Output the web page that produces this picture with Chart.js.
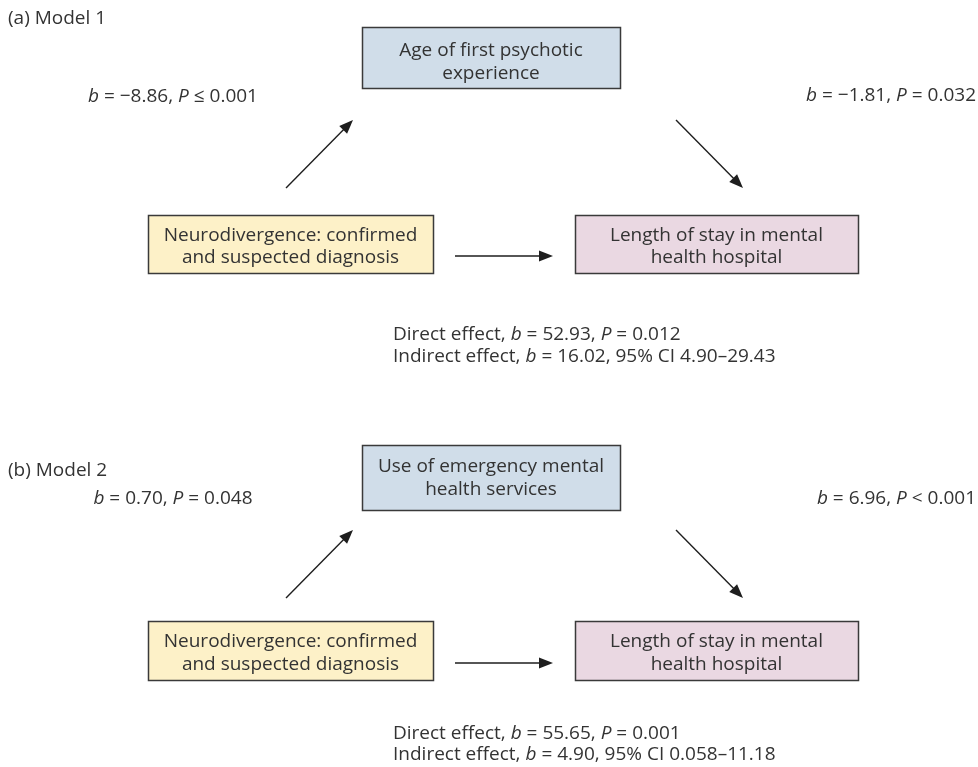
<!DOCTYPE html>
<html><head><meta charset="utf-8">
<script src="https://cdn.jsdelivr.net/npm/chart.js@4/dist/chart.umd.min.js"></script>
<style>html,body{margin:0;padding:0;background:#fff;overflow:hidden}canvas{display:block}</style>
</head><body>
<canvas id="c" width="978" height="767"></canvas>
<script>
// ---- content (text values of the mediation diagram) ----
const panelTitles = ["(a) Model 1", "(b) Model 2"];
const mediators = [["Age of first psychotic", "experience"], ["Use of emergency mental", "health services"]];
const predictors = [["Neurodivergence: confirmed", "and suspected diagnosis"], ["Neurodivergence: confirmed", "and suspected diagnosis"]];
const outcomes = [["Length of stay in mental", "health hospital"], ["Length of stay in mental", "health hospital"]];
const pathA = ["*b* = \u22128.86, *P* \u2264 0.001", "*b* = 0.70, *P* = 0.048"];
const pathB = ["*b* = \u22121.81, *P* = 0.032", "*b* = 6.96, *P* < 0.001"];
const directEffects = ["Direct effect, *b* = 52.93, *P* = 0.012", "Direct effect, *b* = 55.65, *P* = 0.001"];
const indirectEffects = ["Indirect effect, *b* = 16.02, 95% CI 4.90\u201329.43", "Indirect effect, *b* = 4.90, 95% CI 0.058\u201311.18"];

// ---- layout (diagram coordinates, y downwards) ----
const layout = [
  { title: [8, 19], med: [362, 27, 620, 88], medText: [51, 74], aText: [173, 97], bText: [976, 96],
    arrA: [286, 188, 353, 120], arrB: [676, 120, 743, 188],
    pred: [148, 215, 433, 273], predText: [236, 258], out: [575, 215, 858, 273], outText: [236, 258],
    arrC: [455, 256, 553, 256], eff: [393, 335, 357] },
  { title: [8, 471], med: [362, 445, 620, 510], medText: [467, 490], aText: [173, 499], bText: [976, 499],
    arrA: [286, 598, 353, 530], arrB: [676, 530, 743, 598],
    pred: [148, 621, 433, 680], predText: [642, 665], out: [575, 621, 858, 680], outText: [642, 665],
    arrC: [455, 663, 553, 663], eff: [393, 734, 755] }
];
const colors = { med: "#d0dde9", pred: "#fdf1c8", out: "#ead8e2", border: "#3a3a3a", text: "#333333", arrow: "#1e1e1e" };
const FONT = "'Open Sans', 'Noto Sans', sans-serif";
const FS = 19;

const diagramPlugin = {
  id: "diagram",
  afterDraw(chart) {
    const ctx = chart.ctx, xs = chart.scales.x, ys = chart.scales.y;
    const X = v => xs.getPixelForValue(v), Y = v => ys.getPixelForValue(v);
    ctx.save();
    ctx.textBaseline = "middle";
    function segs(str) {
      return str.split("*").map((t, i) => ({ t, it: i % 2 === 1 })).filter(s => s.t.length);
    }
    function rich(str, x, y, align) {
      const parts = segs(str);
      let w = 0;
      parts.forEach(p => { ctx.font = (p.it ? "italic " : "") + FS + "px " + FONT; p.w = ctx.measureText(p.t).width; w += p.w; });
      let sx = X(x);
      if (align === "center") sx -= w / 2; else if (align === "right") sx -= w;
      ctx.textAlign = "left";
      ctx.fillStyle = colors.text;
      parts.forEach(p => { ctx.font = (p.it ? "italic " : "") + FS + "px " + FONT; ctx.fillText(p.t, sx, Y(y)); sx += p.w; });
    }
    function box(r, fill, lines, ty) {
      const x0 = X(r[0]), y0 = Y(r[1]), x1 = X(r[2]), y1 = Y(r[3]);
      ctx.fillStyle = fill;
      ctx.fillRect(x0, y0, x1 - x0, y1 - y0);
      ctx.strokeStyle = colors.border; ctx.lineWidth = 1.5;
      ctx.strokeRect(Math.round(x0) + 0.5, Math.round(y0) + 0.5, Math.round(x1 - x0), Math.round(y1 - y0));
      const cx = (r[0] + r[2]) / 2;
      lines.forEach((l, i) => rich(l, cx, ty[i], "center"));
    }
    function arrow(a) {
      const x0 = X(a[0]), y0 = Y(a[1]), x1 = X(a[2]), y1 = Y(a[3]);
      const ang = Math.atan2(y1 - y0, x1 - x0), L = 14, W = 5.5;
      ctx.strokeStyle = colors.arrow; ctx.fillStyle = colors.arrow; ctx.lineWidth = 1.4;
      ctx.beginPath(); ctx.moveTo(x0, y0);
      ctx.lineTo(x1 - Math.cos(ang) * L * 0.8, y1 - Math.sin(ang) * L * 0.8); ctx.stroke();
      const bx = x1 - Math.cos(ang) * L, by = y1 - Math.sin(ang) * L;
      ctx.beginPath(); ctx.moveTo(x1, y1);
      ctx.lineTo(bx + Math.sin(ang) * W, by - Math.cos(ang) * W);
      ctx.lineTo(bx - Math.sin(ang) * W, by + Math.cos(ang) * W);
      ctx.closePath(); ctx.fill();
    }
    layout.forEach((lay, i) => {
      rich(panelTitles[i], lay.title[0], lay.title[1], "left");
      box(lay.med, colors.med, mediators[i], lay.medText);
      box(lay.pred, colors.pred, predictors[i], lay.predText);
      box(lay.out, colors.out, outcomes[i], lay.outText);
      rich(pathA[i], lay.aText[0], lay.aText[1], "center");
      rich(pathB[i], lay.bText[0], lay.bText[1], "right");
      arrow(lay.arrA); arrow(lay.arrB); arrow(lay.arrC);
      rich(directEffects[i], lay.eff[0], lay.eff[1], "left");
      rich(indirectEffects[i], lay.eff[0], lay.eff[2], "left");
    });
    ctx.restore();
  }
};

new Chart(document.getElementById("c"), {
  type: "scatter",
  data: { datasets: [{ data: [], pointRadius: 0 }] },
  options: {
    responsive: false, animation: false, events: [],
    layout: { padding: 0 },
    plugins: { legend: { display: false }, tooltip: { enabled: false } },
    scales: {
      x: { type: "linear", min: 0, max: 978, display: false },
      y: { type: "linear", min: 0, max: 767, reverse: true, display: false }
    }
  },
  plugins: [diagramPlugin]
});
</script>
</body></html>
